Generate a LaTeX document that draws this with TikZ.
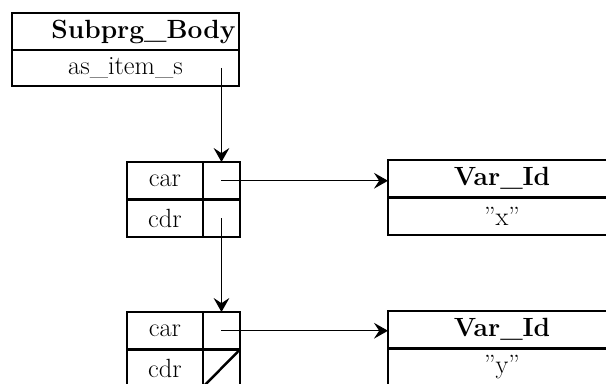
\documentclass[tikz,border=0pt]{standalone}
\usetikzlibrary{positioning,arrows.meta}
\tikzset{
	row/.style={draw, line width=1.4pt, inner sep=2pt, outer sep=0pt, minimum height=0.75cm, font=\fontsize{15}{18}\selectfont},
	rec/.style={row, minimum width=4.54cm},
	lbl/.style={row, minimum width=1.52cm},
	slot/.style={row, minimum width=0.74cm},
	var/.style={row, minimum width=4.56cm},
	ptr/.style={->, line width=0.6pt},
}
\begin{document}
\begin{tikzpicture}[x=0.02cm, y=-0.02cm, >={Stealth[length=8pt,width=9pt,inset=3pt]}]
	\clip (0,0) rectangle (606,383);
	\node[rec, minimum height=0.74cm, text width=4.4cm, align=right, anchor=north west] (sbhead) at (12,13) {\textbf{Subprg\_Body}};
	\node[rec, minimum height=0.72cm, below=0pt of sbhead] (sbitem) {as\_item\_s};
	\node[lbl, anchor=north west] (c1carl) at (127,162) {car};
	\node[slot, right=0pt of c1carl] (c1a) {};
	\node[lbl, below=0pt of c1carl] (c1cdrl) {cdr};
	\node[slot, below=0pt of c1a] (c1d) {};
	\node[var, anchor=north west] (v1head) at (388,160) {\textbf{Var\_Id}};
	\node[var, below=0pt of v1head] (v1name) {''x''};
	\node[lbl, anchor=north west] (c2carl) at (127,312) {car};
	\node[slot, right=0pt of c2carl] (c2a) {};
	\node[lbl, below=0pt of c2carl] (c2cdrl) {cdr};
	\node[slot, below=0pt of c2a] (c2d) {};
	\node[var, anchor=north west] (v2head) at (388,311) {\textbf{Var\_Id}};
	\node[var, below=0pt of v2head] (v2name) {''y''};
	\coordinate (p0) at (c1a |- sbitem.center);
	\draw[ptr] (p0) -- (c1a.north);
	\draw[ptr] (c1a.center) -- (c1a.center -| v1head.west);
	\draw[ptr] (c1d.center) -- (c2a.north);
	\draw[ptr] (c2a.center) -- (c2a.center -| v2head.west);
	\draw[line width=1.4pt] (c2d.south west) -- (c2d.north east);
\end{tikzpicture}
\end{document}
